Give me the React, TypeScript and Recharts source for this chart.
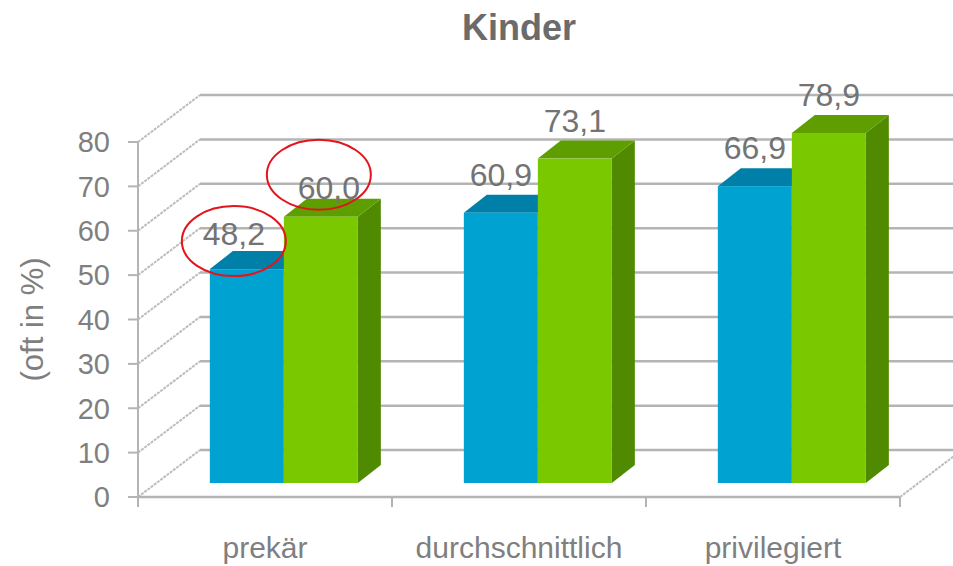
import { BarChart, Bar, XAxis, YAxis, CartesianGrid, LabelList } from 'recharts';

const categories = ['prekär', 'durchschnittlich', 'privilegiert'];
const blueValues = [48.2, 60.9, 66.9];
const greenValues = [60.0, 73.1, 78.9];
const yTicks = [0, 10, 20, 30, 40, 50, 60, 70, 80];
// categories whose labels got circled in red
const highlighted = ['prekär'];

const data = categories.map((name, i) => ({ name, blue: blueValues[i], green: greenValues[i] }));

const FONT = '"Liberation Sans", Arial, sans-serif';
const TEXT = '#7f7f7f';
const LINE = '#b4b4b4';
const DIAG = '#bdbdbd';

// perspective offsets (px)
const WALL_DX = 62;
const WALL_DY = -47;
const BAR_DX = 18.5;
const BAR_DY = -14;
const TOP_DX = 23;
const TOP_DY = -18;

const fmt = (v: number) => v.toFixed(1).replace('.', ',');

const makeBar3D = (front: string, top: string, side: string) => (props: any) => {
  const { x, y, width, height } = props;
  if (!width || height == null) return <g />;
  const fx = x + BAR_DX;
  const fy = y + BAR_DY;
  const bottom = fy + height;
  const rx = fx + width;
  return (
    <g>
      <polygon
        points={`${rx},${fy} ${rx + TOP_DX},${fy + TOP_DY} ${rx + TOP_DX},${bottom + TOP_DY} ${rx},${bottom}`}
        fill={side}
      />
      <polygon
        points={`${fx},${fy} ${fx + TOP_DX},${fy + TOP_DY} ${rx + TOP_DX},${fy + TOP_DY} ${rx},${fy}`}
        fill={top}
      />
      <rect x={fx} y={fy} width={width} height={height} fill={front} />
    </g>
  );
};

interface Nudge { dx: number; dy: number; ex: number; ey: number }

const makeLabel = (nudge: Nudge) => (props: any) => {
  const { x, y, width, value, index } = props;
  const hl = highlighted.includes(categories[index]);
  const cx = x + BAR_DX + width / 2 + (hl ? nudge.dx : 0);
  const cy = y + BAR_DY - 38 + (hl ? nudge.dy : 0);
  return (
    <g>
      <text x={cx} y={cy + 11} textAnchor="middle" fontFamily={FONT} fontSize={32} fill="#737373">
        {fmt(Number(value))}
      </text>
      {hl && (
        <ellipse cx={cx + nudge.ex} cy={cy + nudge.ey} rx={52} ry={35} fill="none" stroke="#e4141c" strokeWidth={2} />
      )}
    </g>
  );
};

// 3D grid: left wall diagonal + back wall line
const gridLine = (props: any) => {
  const { x1, y1, x2 } = props;
  return (
    <g key={`g-${y1}`}>
      <line x1={x1} y1={y1} x2={x1 + WALL_DX} y2={y1 + WALL_DY} stroke={DIAG} strokeWidth={2} strokeDasharray="3 1" />
      <line x1={x1 + WALL_DX} y1={y1 + WALL_DY} x2={x2 + WALL_DX} y2={y1 + WALL_DY} stroke={LINE} strokeWidth={2.5} />
    </g>
  );
};

const XTick = (props: any) => {
  const { x, y, payload } = props;
  const half = payload?.offset ?? 0;
  const last = payload?.value === categories[categories.length - 1];
  return (
    <g>
      <line x1={x - half} y1={y} x2={x - half} y2={y + 10} stroke={LINE} strokeWidth={2} />
      {last && (
        <>
          <line x1={x + half} y1={y} x2={x + half} y2={y + 10} stroke={LINE} strokeWidth={2} />
          <line x1={x + half} y1={y} x2={x + half + WALL_DX} y2={y + WALL_DY} stroke={DIAG} strokeWidth={2} strokeDasharray="3 1" />
        </>
      )}
      <text x={x} y={y + 61} textAnchor="middle" fontFamily={FONT} fontSize={30} fill={TEXT}>
        {payload?.value}
      </text>
    </g>
  );
};

const YLabel = (props: any) => {
  const vb = props.viewBox || { x: 78, y: 142, height: 355 };
  const lx = vb.x - 46;
  const ly = vb.y + vb.height / 2;
  return (
    <text x={lx} y={ly} transform={`rotate(-90, ${lx}, ${ly})`} textAnchor="middle" dominantBaseline="central"
      fontFamily={FONT} fontSize={31} fill={TEXT}>
      (oft in %)
    </text>
  );
};

export default function App() {
  return (
    <div style={{ position: 'absolute', left: 0, top: 0, width: 953, height: 566, background: '#fff' }}>
      <div
        style={{
          position: 'absolute', left: 138, top: 10, width: 762, textAlign: 'center',
          fontFamily: FONT, fontWeight: 'bold', fontSize: 36, lineHeight: '36px', color: '#6b6b6b',
        }}
      >
        Kinder
      </div>
      <BarChart
        width={953}
        height={566}
        data={data}
        margin={{ top: 142, right: 53, bottom: 9, left: 78 }}
        barCategoryGap="21%"
        barGap={0}
      >
        <CartesianGrid vertical={false} horizontal={gridLine} />
        <XAxis
          dataKey="name"
          height={60}
          interval={0}
          tickSize={0}
          tickMargin={0}
          tickLine={false}
          axisLine={{ stroke: LINE, strokeWidth: 2.5 }}
          tick={<XTick />}
        />
        <YAxis
          width={60}
          domain={[0, 80]}
          ticks={yTicks}
          interval={0}
          tickSize={10}
          tickMargin={18}
          axisLine={{ stroke: LINE, strokeWidth: 2 }}
          tickLine={{ stroke: LINE, strokeWidth: 2 }}
          tick={{ fontSize: 29, fill: TEXT, fontFamily: FONT }}
          label={<YLabel />}
        />
        <Bar dataKey="blue" isAnimationActive={false} shape={makeBar3D('#00a2d1', '#0080a8', '#006e90')}>
          <LabelList dataKey="blue" content={makeLabel({ dx: -13, dy: 3, ex: 0, ey: 7 })} />
        </Bar>
        <Bar dataKey="green" isAnimationActive={false} shape={makeBar3D('#7ac800', '#5e9e00', '#4f8a00')}>
          <LabelList dataKey="green" content={makeLabel({ dx: 8, dy: 9, ex: -10, ey: -13 })} />
        </Bar>
      </BarChart>
    </div>
  );
}
